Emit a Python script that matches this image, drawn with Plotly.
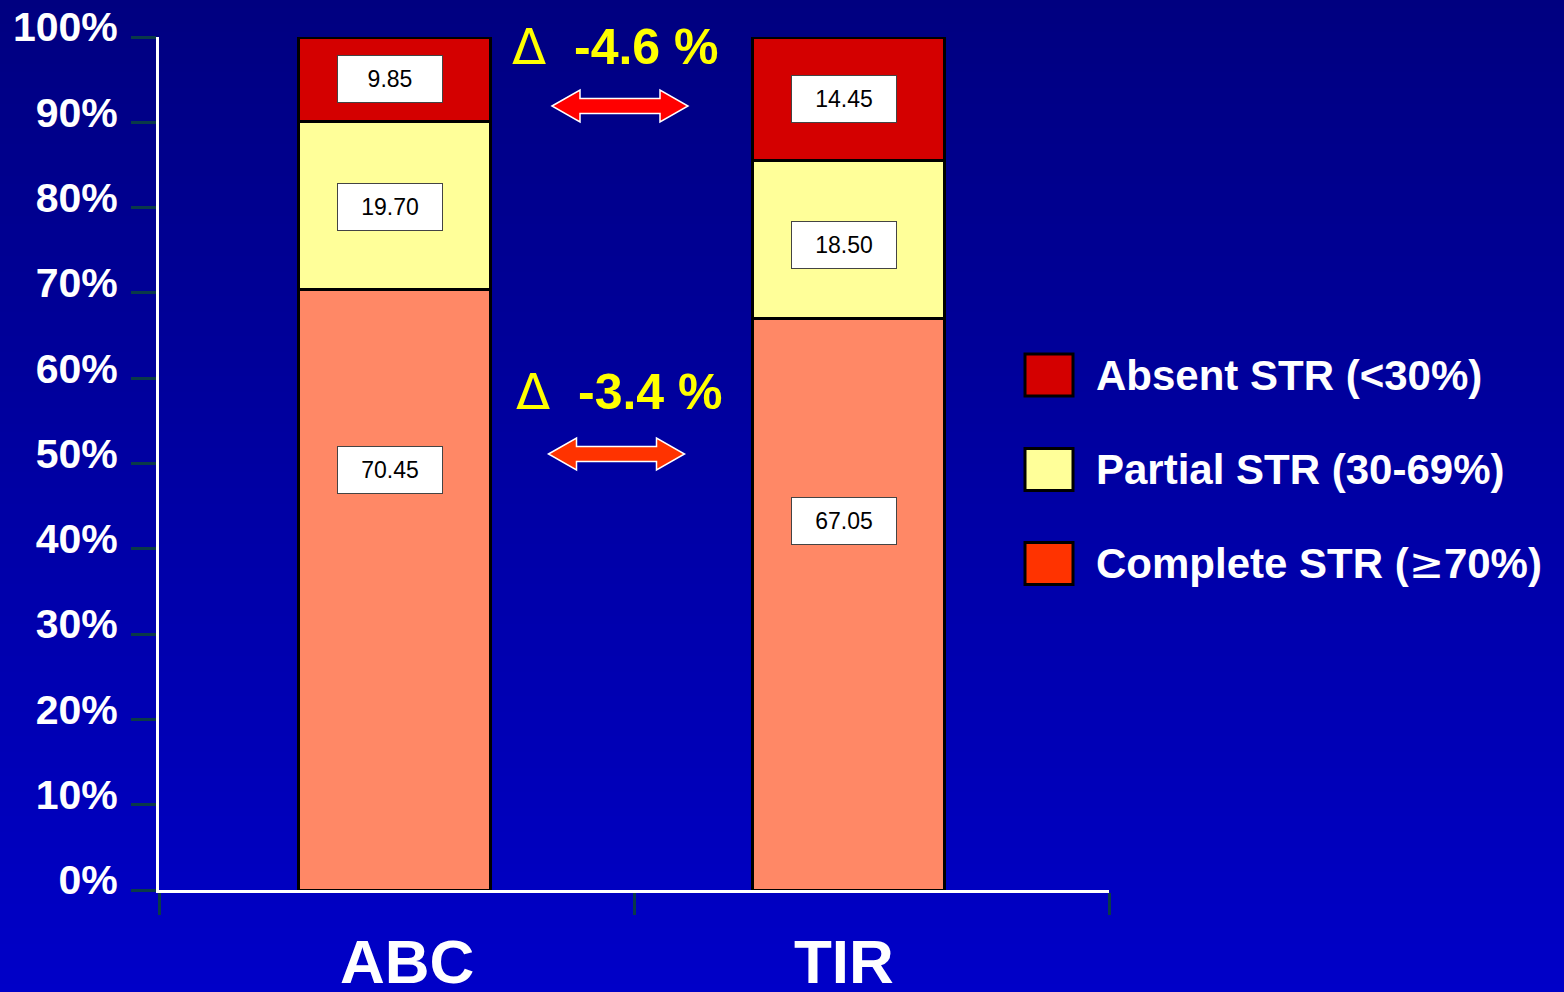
import plotly.graph_objects as go

# ---- data -------------------------------------------------------------
groups = ["ABC", "TIR"]
complete_str = [70.45, 67.05]   # Complete STR (>=70%)
partial_str = [19.70, 18.50]    # Partial STR (30-69%)
absent_str = [9.85, 14.45]      # Absent STR (<30%)

y_ticks = [0, 10, 20, 30, 40, 50, 60, 70, 80, 90, 100]
y_tick_text = [f"{v}%" for v in y_ticks]

delta_values = ["-4.6 %", "-3.4 %"]
legend_names = ["Absent STR (<30%)", "Partial STR (30-69%)",
                "Complete STR (<span style='font-family:DejaVu Sans;font-weight:normal'>\u2265</span>70%)"]

# ---- styling / geometry ------------------------------------------------
W, H = 1564, 992
ML, MR, MT, MB = 159, 455, 37, 102
PW, PH = W - ML - MR, H - MT - MB

FONT = "Arial, Liberation Sans, Helvetica, sans-serif"
C_ABSENT = "#D40000"
C_PARTIAL = "#FFFF99"
C_COMPLETE = "#FF8866"
C_COMPLETE_KEY = "#FF3300"
TICK_COL = "#0A3A48"

bar_width = 0.404
bar_offset = [-0.2053, -0.2495]          # left edge of each bar, category units
complete_label_y = [49.2, 43.3]          # label heights inside the large segment
partial_label_y = [80.1, 75.6]


def px_x(p):
    return (p - ML) / PW


def px_y(p):
    return (H - MB - p) / PH


fig = go.Figure()

series = [
    ("Complete", complete_str, C_COMPLETE),
    ("Partial", partial_str, C_PARTIAL),
    ("Absent", absent_str, C_ABSENT),
]
for name, vals, col in series:
    fig.add_trace(go.Bar(
        x=groups, y=vals, name=name,
        width=[bar_width] * len(groups), offset=bar_offset,
        marker=dict(color=col, line=dict(color="black", width=3)),
        showlegend=False, hoverinfo="skip",
    ))

shapes = []

# vertical background gradient (dark navy to brighter blue)
N = 124
top_rgb, bot_rgb = (0, 0, 128), (0, 0, 200)
for i in range(N):
    t = (i + 0.5) / N
    r, g, b = [round(a + (c - a) * t) for a, c in zip(top_rgb, bot_rgb)]
    y0 = i * H / N
    y1 = (i + 1) * H / N + 0.6
    shapes.append(dict(
        type="rect", xref="paper", yref="paper", layer="below",
        x0=px_x(0), x1=px_x(W), y0=px_y(y1), y1=px_y(y0),
        fillcolor=f"rgb({r},{g},{b})", line=dict(width=0),
    ))

annotations = []

# value boxes on the segments
for i, g in enumerate(groups):
    bar_mid = i + bar_offset[i] + bar_width / 2
    ys = [
        complete_label_y[i],
        partial_label_y[i],
        complete_str[i] + partial_str[i] + absent_str[i] / 2,
    ]
    vals = [complete_str[i], partial_str[i], absent_str[i]]
    for yv, v in zip(ys, vals):
        annotations.append(dict(
            x=bar_mid, y=yv, xref="x", yref="y", xshift=-5,
            text=f"{v:.2f}", showarrow=False,
            font=dict(family=FONT, size=23, color="black"),
            bgcolor="white", bordercolor="#444444", borderwidth=1, borderpad=0,
            width=104, height=46, align="center", valign="middle",
        ))

# category labels under the axis
cat_centers = [407, 844]
for g, cx in zip(groups, cat_centers):
    annotations.append(dict(
        x=px_x(cx), y=px_y(961), xref="paper", yref="paper",
        text=g, showarrow=False, xanchor="center", yanchor="middle",
        font=dict(family=FONT, size=62, color="white", weight="bold"),
    ))

# delta labels and double arrows
delta_pos = [(615, 47), (619, 392)]
arrow_pos = [(620, 106, "#FF0000"), (616.5, 454, "#FF3300")]
for val, (cx, cy) in zip(delta_values, delta_pos):
    txt = ("<span style='font-family:DejaVu Sans;font-weight:normal'>\u0394</span>"
           "  <b>" + val + "</b>")
    annotations.append(dict(
        x=px_x(cx), y=px_y(cy), xref="paper", yref="paper",
        text=txt, showarrow=False, xanchor="center", yanchor="middle",
        font=dict(family=FONT, size=50, color="#FFFF00"),
    ))

arrow_path = ("M -68,0 L -40,16 L -40,7.5 L 40,7.5 L 40,16 L 68,0 "
              "L 40,-16 L 40,-7.5 L -40,-7.5 L -40,-16 Z")
for cx, cy, col in arrow_pos:
    shapes.append(dict(
        type="path", xref="paper", yref="paper",
        xsizemode="pixel", ysizemode="pixel",
        xanchor=px_x(cx), yanchor=px_y(cy), path=arrow_path,
        fillcolor=col, line=dict(color="white", width=1.5), layer="above",
    ))

# legend keys
key_cols = [C_ABSENT, C_PARTIAL, C_COMPLETE_KEY]
key_cy = [375, 469.5, 563.5]
for name, col, cy in zip(legend_names, key_cols, key_cy):
    shapes.append(dict(
        type="rect", xref="paper", yref="paper",
        x0=px_x(1025), x1=px_x(1073), y0=px_y(cy + 21), y1=px_y(cy - 21),
        fillcolor=col, line=dict(color="black", width=3), layer="above",
    ))
    annotations.append(dict(
        x=px_x(1094), y=px_y(cy), xref="paper", yref="paper",
        text=name, showarrow=False, xanchor="left", yanchor="middle",
        font=dict(family=FONT, size=42, color="white", weight="bold"),
    ))

fig.update_layout(
    width=W, height=H,
    margin=dict(l=ML, r=MR, t=MT, b=MB, pad=0),
    barmode="stack",
    paper_bgcolor="#000080",
    plot_bgcolor="rgba(0,0,0,0)",
    shapes=shapes,
    annotations=annotations,
    xaxis=dict(
        type="category", range=[-0.5, 1.5], tickson="boundaries",
        showticklabels=False, ticks="outside", ticklen=22, tickwidth=3,
        tickcolor=TICK_COL, showline=True, linecolor="white", linewidth=3,
        showgrid=False, zeroline=False, fixedrange=True, automargin=False,
    ),
    yaxis=dict(
        range=[0, 100], tickvals=y_ticks, ticktext=y_tick_text,
        ticks="outside", ticklen=25, tickwidth=3, tickcolor=TICK_COL,
        showline=True, linecolor="white", linewidth=3,
        showgrid=False, zeroline=False, fixedrange=True, automargin=False,
        ticklabelstandoff=5, ticklabelshift=-10,
        tickfont=dict(family=FONT, size=41, color="white", weight="bold"),
    ),
)

fig.write_html("out.html", config={"displayModeBar": False})
